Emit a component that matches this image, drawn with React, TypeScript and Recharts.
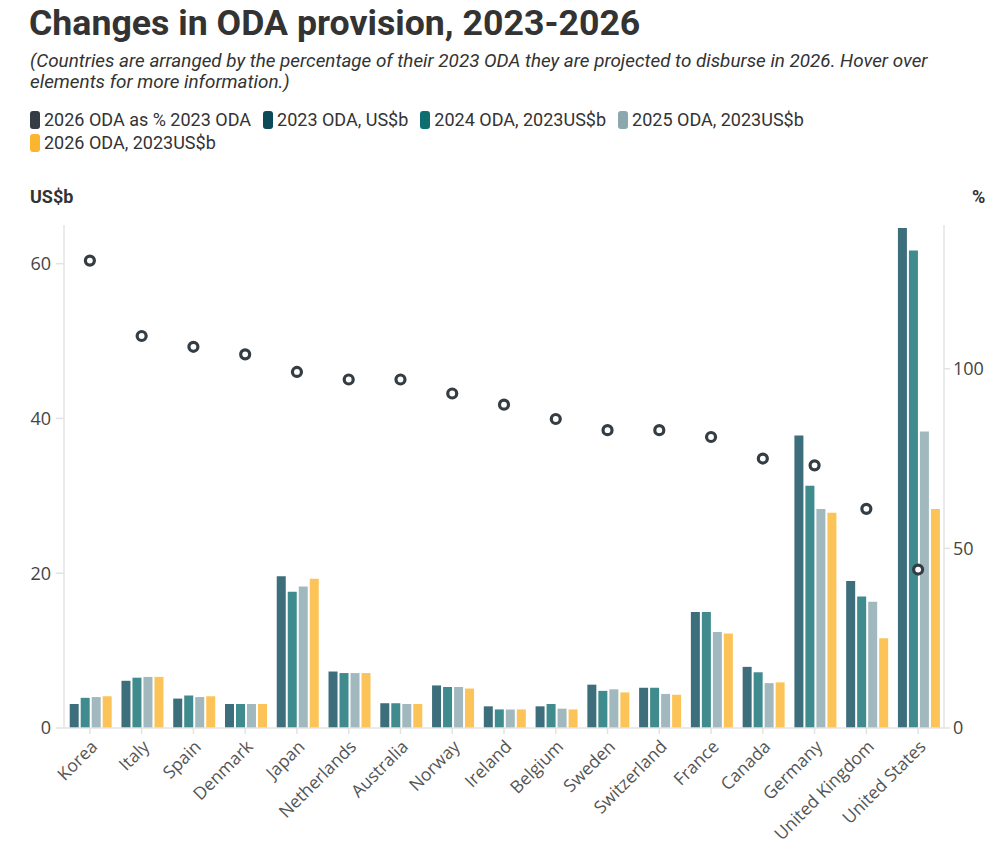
import React from "react";
import { ComposedChart, Bar, Line, XAxis, YAxis, Legend } from "recharts";

const countries = ["Korea", "Italy", "Spain", "Denmark", "Japan", "Netherlands", "Australia", "Norway", "Ireland", "Belgium", "Sweden", "Switzerland", "France", "Canada", "Germany", "United Kingdom", "United States"];
const oda2023 = [3.1, 6.1, 3.8, 3.1, 19.6, 7.3, 3.2, 5.5, 2.8, 2.8, 5.6, 5.2, 15.0, 7.9, 37.8, 19.0, 64.6];
const oda2024 = [3.9, 6.5, 4.2, 3.1, 17.6, 7.1, 3.2, 5.3, 2.4, 3.1, 4.8, 5.2, 15.0, 7.2, 31.3, 17.0, 61.7];
const oda2025 = [4.0, 6.6, 4.0, 3.1, 18.3, 7.1, 3.1, 5.3, 2.4, 2.5, 5.0, 4.4, 12.4, 5.8, 28.3, 16.3, 38.3];
const oda2026 = [4.1, 6.6, 4.1, 3.1, 19.3, 7.1, 3.1, 5.1, 2.4, 2.4, 4.6, 4.3, 12.2, 5.9, 27.8, 11.6, 28.3];
const pct2026 = [130.1, 109.1, 106.1, 104.0, 99.1, 97.0, 97.0, 93.1, 90.0, 86.0, 82.9, 82.9, 81.0, 75.0, 73.1, 61.0, 44.1];
const leftTicks = [0, 20, 40, 60];
const rightTicks = [0, 50, 100];

const data = countries.map((c, i) => ({
  country: c,
  oda2023: oda2023[i],
  oda2024: oda2024[i],
  oda2025: oda2025[i],
  oda2026: oda2026[i],
  pct: pct2026[i],
}));

const legendItems = [
  { label: "2026 ODA as % 2023 ODA", color: "#333d43" },
  { label: "2023 ODA, US$b", color: "#0c4a5a" },
  { label: "2024 ODA, 2023US$b", color: "#0f6e70" },
  { label: "2025 ODA, 2023US$b", color: "#8aa8ae" },
  { label: "2026 ODA, 2023US$b", color: "#fbb52e" },
];

const FONT = "Roboto, 'Open Sans', sans-serif";
const TICK_FONT = "'Open Sans', sans-serif";

const LegendItem = ({ label, color }: { label: string; color: string }) => (
  <div style={{ display: "flex", alignItems: "center", marginRight: 12 }}>
    <div style={{ width: 10, height: 18, borderRadius: 3, background: color, marginRight: 4 }} />
    <span style={{ fontSize: 18, color: "#333", fontFamily: FONT, lineHeight: "23px" }}>{label}</span>
  </div>
);

const renderLegend = () => (
  <div>
    <div style={{ display: "flex" }}>
      {legendItems.slice(0, 4).map((it) => (
        <LegendItem key={it.label} label={it.label} color={it.color} />
      ))}
    </div>
    <div style={{ display: "flex" }}>
      {legendItems.slice(4).map((it) => (
        <LegendItem key={it.label} label={it.label} color={it.color} />
      ))}
    </div>
  </div>
);

const RingDot = (props: any) => {
  const { cx, cy } = props;
  if (cx == null || cy == null) return null;
  return <circle cx={cx} cy={cy} r={4.5} fill="#fff" stroke="#333d43" strokeWidth={3.2} />;
};

export default function App() {
  return (
    <div style={{ position: "relative", margin: -8, width: 1000, height: 852, background: "#fff", overflow: "hidden" }}>
      <div style={{ position: "absolute", left: 29, top: 3, fontFamily: FONT, fontWeight: 700, fontSize: 35.7, lineHeight: "40px", color: "#333", whiteSpace: "nowrap" }}>
        Changes in ODA provision, 2023-2026
      </div>
      <div style={{ position: "absolute", left: 30, top: 51, fontFamily: FONT, fontStyle: "italic", fontSize: 18.85, lineHeight: "21px", color: "#333", whiteSpace: "nowrap" }}>
        (Countries are arranged by the percentage of their 2023 ODA they are projected to disburse in 2026. Hover over
        <br />
        elements for more information.)
      </div>
      <div style={{ position: "absolute", left: 30, top: 186, fontFamily: FONT, fontWeight: 700, fontSize: 18, color: "#333" }}>US$b</div>
      <div style={{ position: "absolute", left: 972, top: 186, fontFamily: FONT, fontWeight: 700, fontSize: 18, color: "#333" }}>%</div>
      <div style={{ position: "absolute", left: 0, top: 0 }}>
        <ComposedChart
          width={1000}
          height={852}
          data={data}
          margin={{ top: 225, right: 0, bottom: 0, left: 0 }}
          barCategoryGap="11%"
          barGap={2}
        >
          <XAxis
            dataKey="country"
            height={124}
            interval={0}
            angle={-45}
            textAnchor="end"
            tickSize={6}
            tickMargin={5}
            stroke="#e3e3e3"
            strokeWidth={1.5}
            tick={{ fontSize: 17.5, fill: "#555", fontFamily: TICK_FONT }}
          />
          <YAxis
            yAxisId="left"
            orientation="left"
            width={64}
            domain={[0, 65]}
            ticks={leftTicks}
            allowDataOverflow
            tickSize={8}
            tickMargin={5}
            stroke="#e3e3e3"
            strokeWidth={1.5}
            tick={{ fontSize: 18, fill: "#444", fontFamily: TICK_FONT }}
          />
          <YAxis
            yAxisId="right"
            orientation="right"
            width={56}
            domain={[0, 140]}
            ticks={rightTicks}
            allowDataOverflow
            tickSize={6}
            tickMargin={3}
            stroke="#e3e3e3"
            strokeWidth={1.5}
            tick={{ fontSize: 18, fill: "#444", fontFamily: TICK_FONT }}
          />
          <Legend
            layout="horizontal"
            verticalAlign="middle"
            align="center"
            content={renderLegend}
            wrapperStyle={{ position: "absolute", left: 30, top: 108, width: 900, height: 50 }}
          />
          <Bar yAxisId="left" dataKey="oda2023" name="2023 ODA, US$b" fill="#0c4a5a" fillOpacity={0.8} isAnimationActive={false} />
          <Bar yAxisId="left" dataKey="oda2024" name="2024 ODA, 2023US$b" fill="#0f6e70" fillOpacity={0.8} isAnimationActive={false} />
          <Bar yAxisId="left" dataKey="oda2025" name="2025 ODA, 2023US$b" fill="#8aa8ae" fillOpacity={0.8} isAnimationActive={false} />
          <Bar yAxisId="left" dataKey="oda2026" name="2026 ODA, 2023US$b" fill="#fbb52e" fillOpacity={0.8} isAnimationActive={false} />
          <Line
            yAxisId="right"
            dataKey="pct"
            name="2026 ODA as % 2023 ODA"
            stroke="none"
            dot={<RingDot />}
            activeDot={false}
            isAnimationActive={false}
          />
        </ComposedChart>
      </div>
    </div>
  );
}
